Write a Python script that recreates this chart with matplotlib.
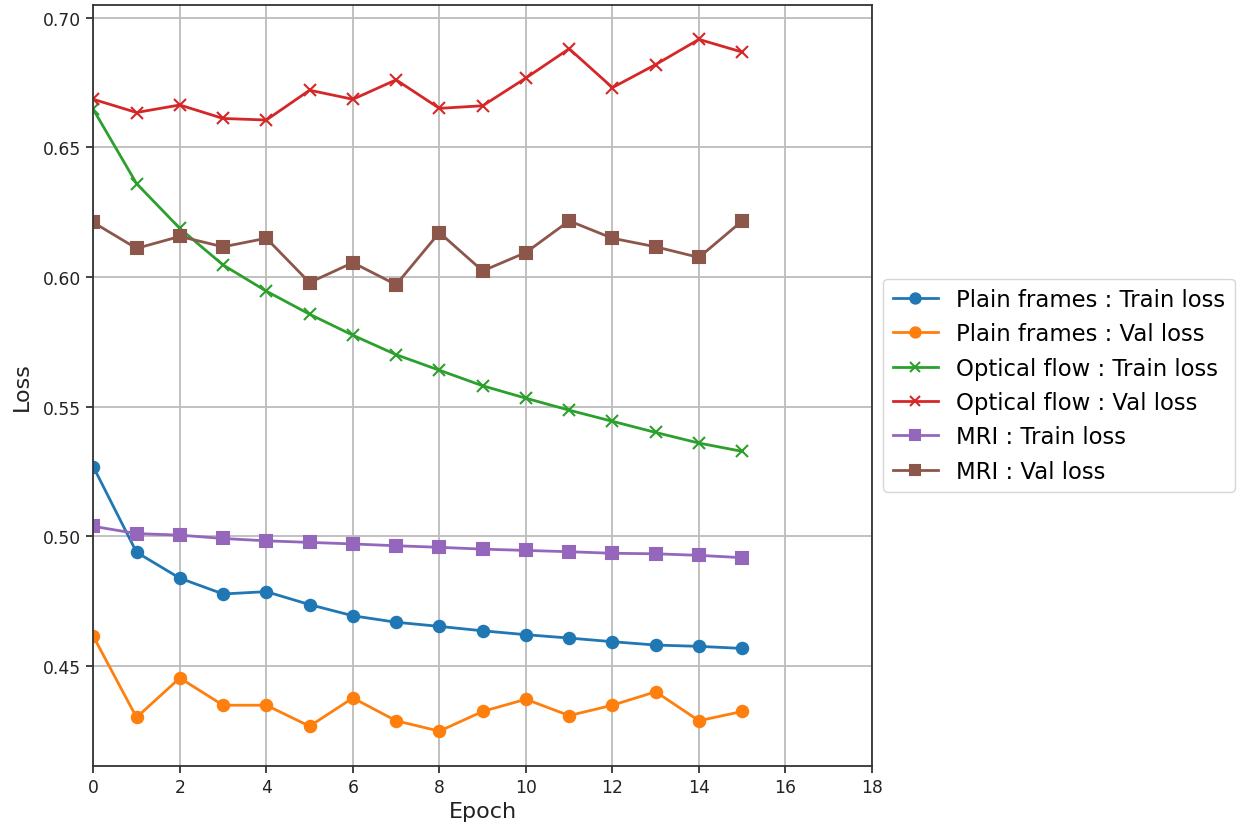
import matplotlib
matplotlib.use("Agg")
import matplotlib.pyplot as plt

epochs = list(range(16))

pf_train = [0.5268, 0.4938, 0.4838, 0.4777, 0.4786, 0.4736, 0.4693, 0.4668,
            0.4652, 0.4635, 0.4620, 0.4607, 0.4593, 0.4580, 0.4575, 0.4567]
pf_val = [0.4614, 0.4301, 0.4453, 0.4348, 0.4348, 0.4267, 0.4376, 0.4288,
          0.4248, 0.4324, 0.4371, 0.4308, 0.4348, 0.4400, 0.4288, 0.4324]
of_train = [0.6646, 0.6360, 0.6187, 0.6046, 0.5945, 0.5856, 0.5775, 0.5700,
            0.5640, 0.5580, 0.5532, 0.5486, 0.5443, 0.5400, 0.5359, 0.5327]
of_val = [0.6685, 0.6634, 0.6663, 0.6611, 0.6605, 0.6720, 0.6685, 0.6760,
          0.6650, 0.6660, 0.6767, 0.6880, 0.6730, 0.6819, 0.6916, 0.6867]
mri_train = [0.5038, 0.5010, 0.5004, 0.4991, 0.4982, 0.4976, 0.4970, 0.4963,
             0.4957, 0.4950, 0.4945, 0.4940, 0.4934, 0.4932, 0.4926, 0.4917]
mri_val = [0.6210, 0.6110, 0.6156, 0.6116, 0.6149, 0.5978, 0.6055, 0.5970,
           0.6171, 0.6023, 0.6094, 0.6216, 0.6149, 0.6116, 0.6075, 0.6216]

labels = ["Plain frames : Train loss", "Plain frames : Val loss",
          "Optical flow : Train loss", "Optical flow : Val loss",
          "MRI : Train loss", "MRI : Val loss"]
xticks = list(range(0, 20, 2))

fig = plt.figure(figsize=(12.42, 8.28), dpi=100)
ax = fig.add_axes([0.0751, 0.074, 0.627, 0.919])

series = [pf_train, pf_val, of_train, of_val, mri_train, mri_val]
markers = ["o", "o", "x", "x", "s", "s"]
colors = ["#1f77b4", "#ff7f0e", "#2ca02c", "#d62728", "#9467bd", "#8c564b"]
for ys, m, c, lab in zip(series, markers, colors, labels):
    ax.plot(epochs, ys, marker=m, color=c, label=lab, linewidth=2.0,
            markersize=8.2, markeredgewidth=1.5)

ax.set_xlim(0, 18)
ax.set_xticks(xticks)
ax.grid(True, color="#bcbcbc", linewidth=1.3)
ax.tick_params(labelsize=12.3, width=1.2, length=5, colors="#222222")
for s in ax.spines.values():
    s.set_linewidth(1.3)
    s.set_color("#333333")
ax.set_xlabel("Epoch", fontsize=16, color="#222222", labelpad=4)
ax.set_ylabel("Loss", fontsize=16, color="#222222", labelpad=8)
ax.legend(loc="center left", bbox_to_anchor=(1.0, 0.5), fontsize=16.4,
          handlelength=2.0, markerscale=0.9)

fig.savefig("out.png", dpi=100)
